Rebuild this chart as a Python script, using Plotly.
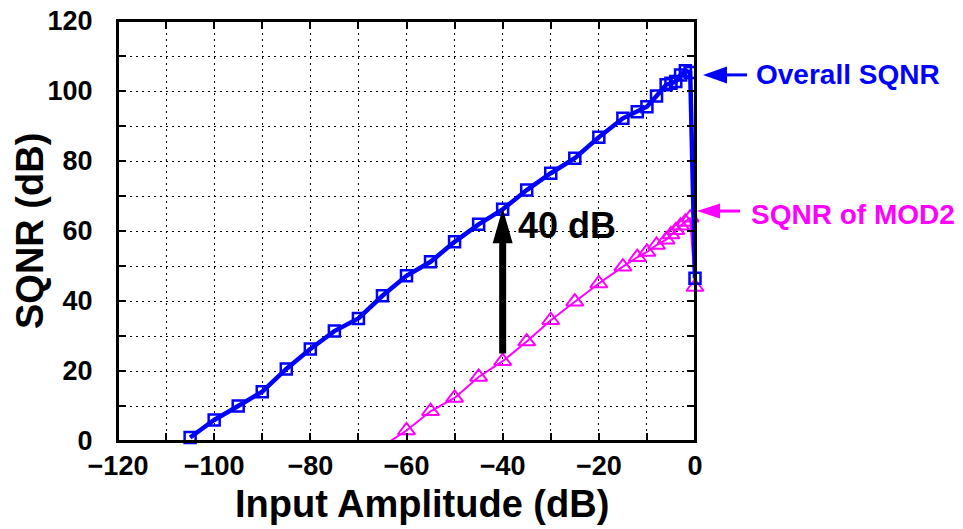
import plotly.graph_objects as go

# ---- data ----
x_overall = [-105, -100, -95, -90, -85, -80, -75, -70, -65, -60, -55, -50, -45, -40,
             -35, -30, -25, -20, -15, -12, -10, -8, -6, -5, -4, -3, -2, -1, 0]
y_overall = [1.0, 6.0, 10.0, 14.1, 20.6, 26.3, 31.4, 35.0, 41.5, 47.2, 51.2, 56.9, 61.9, 66.2,
             71.7, 76.5, 80.8, 86.8, 92.2, 94.1, 95.5, 98.6, 101.8, 102.2, 102.7, 104.6, 105.8, 105.3, 46.5]

x_mod2 = [-65, -60, -55, -50, -45, -40, -35, -30, -25, -20, -15, -12, -10, -8, -6,
          -5, -4, -3, -2, -1, 0]
y_mod2 = [-1.5, 3.0, 8.5, 12.3, 18.3, 22.8, 28.4, 34.5, 39.8, 45.0, 49.8, 52.5, 54.0, 56.0, 57.5,
          59.0, 60.2, 61.5, 62.6, 63.8, 44.0]

x_ticks = [-120, -100, -80, -60, -40, -20, 0]
y_ticks = [0, 20, 40, 60, 80, 100, 120]
x_range = [-120, 0]
y_range = [0, 120]

arrow_x = -40
arrow_from = 25
arrow_to = 66.5
label_gain = "40 dB"
label_gain_y = 61.6
label_overall = "Overall SQNR"
label_mod2 = "SQNR of MOD2"
overall_label_y = 104.6
mod2_label_y = 65.7

BLUE = "#0000FF"
MAG = "#FF00FF"
FONT = "Liberation Sans, Arial, sans-serif"


def to_paper_y(v):
    return (v - y_range[0]) / (y_range[1] - y_range[0])


fig = go.Figure()

# MOD2 line (clipped) and markers (not clipped)
fig.add_trace(go.Scatter(x=x_mod2, y=y_mod2, mode="lines",
                         line=dict(color=MAG, width=2), cliponaxis=True, showlegend=False))
fig.add_trace(go.Scatter(x=[v for v, w in zip(x_mod2, y_mod2) if w >= 0],
                         y=[w for w in y_mod2 if w >= 0], mode="markers",
                         marker=dict(symbol="triangle-up-open", size=15, color=MAG,
                                     line=dict(color=MAG, width=2)),
                         cliponaxis=False, showlegend=False))
# Overall
fig.add_trace(go.Scatter(x=x_overall, y=y_overall, mode="lines+markers",
                         line=dict(color=BLUE, width=4.5),
                         marker=dict(symbol="square-open", size=11, color=BLUE,
                                     line=dict(color=BLUE, width=2.5)),
                         cliponaxis=False, showlegend=False))

py_over = to_paper_y(overall_label_y)
py_mod2 = to_paper_y(mod2_label_y)
shapes = [
    # plot frame (top and right edges) drawn explicitly
    dict(type="rect", xref="paper", yref="paper", x0=0, x1=1, y0=0, y1=1,
         line=dict(color="black", width=2), layer="above"),
    # big black arrow
    dict(type="line", xref="x", yref="y", x0=arrow_x, x1=arrow_x, y0=arrow_from, y1=arrow_to - 9,
         line=dict(color="black", width=7)),
    dict(type="path", xref="x", yref="y", xsizemode="pixel", ysizemode="pixel",
         xanchor=arrow_x, yanchor=arrow_to, path="M 0,0 L -10,-35 L 10,-35 Z",
         fillcolor="black", line=dict(color="black", width=0)),
    # overall label arrow
    dict(type="line", xref="paper", yref="paper", xsizemode="pixel", xanchor=1,
         x0=28, x1=52, y0=py_over, y1=py_over,
         line=dict(color=BLUE, width=3)),
    dict(type="path", xref="paper", yref="paper", xsizemode="pixel", ysizemode="pixel",
         xanchor=1, yanchor=py_over, path="M 8,0 L 32,8.5 L 32,-8.5 Z",
         fillcolor=BLUE, line=dict(color=BLUE, width=0)),
    # mod2 label arrow
    dict(type="line", xref="paper", yref="paper", xsizemode="pixel", xanchor=1,
         x0=22, x1=45, y0=py_mod2, y1=py_mod2,
         line=dict(color=MAG, width=3)),
    dict(type="path", xref="paper", yref="paper", xsizemode="pixel", ysizemode="pixel",
         xanchor=1, yanchor=py_mod2, path="M 2,0 L 25,7.5 L 25,-7.5 Z",
         fillcolor=MAG, line=dict(color=MAG, width=0)),
]

annotations = [
    dict(text=label_gain, x=arrow_x, y=label_gain_y, xref="x", yref="y", xshift=13,
         xanchor="left", yanchor="middle", showarrow=False,
         font=dict(family=FONT, size=36, color="black", weight="bold")),
    dict(text=label_overall, x=1, y=overall_label_y, xref="paper", yref="y", xshift=59,
         xanchor="left", yanchor="middle", showarrow=False,
         font=dict(family=FONT, size=28, color=BLUE, weight="bold")),
    dict(text=label_mod2, x=1, y=mod2_label_y - 1, xref="paper", yref="y", xshift=54,
         xanchor="left", yanchor="middle", showarrow=False,
         font=dict(family=FONT, size=28, color=MAG, weight="bold")),
    # axis titles
    dict(text="Input Amplitude (dB)", x=0.5, y=0, xref="paper", yref="paper",
         xshift=15, yshift=-63, xanchor="center", yanchor="middle", showarrow=False,
         font=dict(family=FONT, size=38, color="black", weight="bold")),
    dict(text="SQNR (dB)", x=0, y=0.5, xref="paper", yref="paper", textangle=-90,
         xshift=-88, xanchor="center", yanchor="middle", showarrow=False,
         font=dict(family=FONT, size=38, color="black", weight="bold")),
]

axis_common = dict(
    automargin=False,
    showline=True, linecolor="black", linewidth=2, mirror="ticks",
    ticks="inside", ticklen=8, tickwidth=1.5, tickcolor="black",
    ticklabeloverflow="allow",
    showgrid=True, gridcolor="black", gridwidth=1, griddash="2px,4px",
    zeroline=False,
    tickfont=dict(family=FONT, size=27, color="black", weight="bold"),
    minor=dict(dtick=10, ticks="inside", ticklen=8, tickwidth=1.5, tickcolor="black",
               showgrid=True, gridcolor="black", gridwidth=1, griddash="2px,4px"),
)

# the page body adds an 8px offset, so the figure is 8px smaller and margins shifted
fig.update_layout(
    width=955, height=521,
    margin=dict(l=110, r=268, t=13, b=88),
    paper_bgcolor="white", plot_bgcolor="white",
    shapes=shapes, annotations=annotations,
    xaxis=dict(range=x_range, tickvals=x_ticks, ticklabelstandoff=0, **axis_common),
    yaxis=dict(range=y_range, tickvals=y_ticks, ticklabelstandoff=18, **axis_common),
)

fig.write_html("out.html")
